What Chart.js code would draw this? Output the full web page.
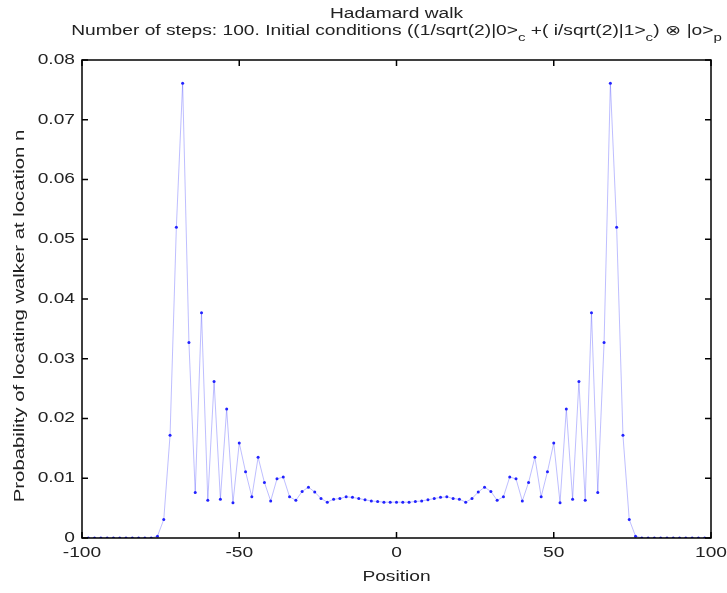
<!DOCTYPE html>
<html>
<head>
<meta charset="utf-8">
<script src="https://cdn.jsdelivr.net/npm/chart.js@4.4.1/dist/chart.umd.min.js"></script>
<style>
    html, body { margin: 0; padding: 0; background: #fff; }
    #wrap { width: 727px; height: 593px; }
</style>
</head>
<body>
<div id="wrap"><canvas id="chart" width="727" height="593"></canvas></div>
<script>
// positions -100..100, even sites only (odd sites are empty after 100 steps)
const positions = [
    -100, -98, -96, -94, -92, -90, -88, -86, -84, -82, -80, -78, -76, -74, -72, -70, -68, -66, -64, -62,
    -60, -58, -56, -54, -52, -50, -48, -46, -44, -42, -40, -38, -36, -34, -32, -30, -28, -26, -24, -22,
    -20, -18, -16, -14, -12, -10, -8, -6, -4, -2, 0, 2, 4, 6, 8, 10, 12, 14, 16, 18,
    20, 22, 24, 26, 28, 30, 32, 34, 36, 38, 40, 42, 44, 46, 48, 50, 52, 54, 56, 58,
    60, 62, 64, 66, 68, 70, 72, 74, 76, 78, 80, 82, 84, 86, 88, 90, 92, 94, 96, 98, 100
]
const probs = [
    0, 0, 0, 0, 0, 0, 0, 0, 0, 0, 0, 0, 0.0003, 0.0031, 0.0172, 0.0520, 0.0761, 0.0327, 0.0076, 0.0377,
    0.0063, 0.0262, 0.0065, 0.0216, 0.0059, 0.0159, 0.0111, 0.0069, 0.0135, 0.0093, 0.0062, 0.0099, 0.0102, 0.0069, 0.0063, 0.0078, 0.0085, 0.0077, 0.0066, 0.0060,
    0.0065, 0.0066, 0.0069, 0.0068, 0.0066, 0.0064, 0.0062, 0.0061, 0.0060, 0.0060, 0.0060, 0.0060, 0.0060, 0.0061, 0.0062, 0.0064, 0.0066, 0.0068, 0.0069, 0.0066,
    0.0065, 0.0060, 0.0066, 0.0077, 0.0085, 0.0078, 0.0063, 0.0069, 0.0102, 0.0099, 0.0062, 0.0093, 0.0135, 0.0069, 0.0111, 0.0159, 0.0059, 0.0216, 0.0065, 0.0262,
    0.0063, 0.0377, 0.0076, 0.0327, 0.0761, 0.0520, 0.0172, 0.0031, 0.0003, 0, 0, 0, 0, 0, 0, 0, 0, 0, 0, 0, 0
]
const xTicks = [-100, -50, 0, 50, 100]
const xTickLabels = ['-100', '-50', '0', '50', '100']
const yTicks = [0, 0.01, 0.02, 0.03, 0.04, 0.05, 0.06, 0.07, 0.08]
const yTickLabels = ['0', '0.01', '0.02', '0.03', '0.04', '0.05', '0.06', '0.07', '0.08']

const titleLine1 = 'Hadamard walk'
// [text, isSubscript]
const titleLine2 = [
    ['Number of steps: 100. Initial conditions ((1/sqrt(2)|0>', false], ['c', true],
    [' +( i/sqrt(2)|1>', false], ['c', true], [') \u2297 |o>', false], ['p', true]
]
const xLabel = 'Position'
const yLabel = 'Probability of locating walker at location n'

const FONT = '"Liberation Sans", Arial, sans-serif'
const MAIN_FONT = '14px ' + FONT
const SUB_FONT = '11px ' + FONT
const STRETCH = 1.37   // the text in the original is wide, scale it horizontally
const TICK_LEN = 6

// draw text stretched horizontally around its anchor
function wideText(ctx, text, x, y, align, sx) {
    ctx.save()
    ctx.translate(x, y)
    ctx.scale(sx, 1)
    ctx.textAlign = align
    ctx.fillText(text, 0, 0)
    ctx.restore()
}

const framePlugin = {
    id: 'frame',
    afterDraw(chart) {
        const ctx = chart.ctx
        const a = chart.chartArea
        const xs = chart.scales.x
        const ys = chart.scales.y
        ctx.save()
        ctx.strokeStyle = '#000'
        ctx.lineWidth = 1.5
        ctx.strokeRect(a.left, a.top, a.right - a.left, a.bottom - a.top)
        ctx.beginPath()
        xTicks.forEach(v => {
            const px = xs.getPixelForValue(v)
            ctx.moveTo(px, a.bottom); ctx.lineTo(px, a.bottom - TICK_LEN)
            ctx.moveTo(px, a.top); ctx.lineTo(px, a.top + TICK_LEN)
        })
        yTicks.forEach(v => {
            const py = ys.getPixelForValue(v)
            ctx.moveTo(a.left, py); ctx.lineTo(a.left + TICK_LEN, py)
            ctx.moveTo(a.right, py); ctx.lineTo(a.right - TICK_LEN, py)
        })
        ctx.stroke()

        ctx.fillStyle = '#222'
        ctx.textBaseline = 'middle'
        ctx.font = MAIN_FONT

        // tick labels
        xTicks.forEach((v, i) => wideText(ctx, xTickLabels[i], xs.getPixelForValue(v), a.bottom + 15, 'center', STRETCH))
        yTicks.forEach((v, i) => wideText(ctx, yTickLabels[i], a.left - 7, ys.getPixelForValue(v), 'right', STRETCH))

        const cx = (a.left + a.right) / 2
        wideText(ctx, titleLine1, cx, 14, 'center', STRETCH)

        // second title line with subscripts
        let total = 0
        titleLine2.forEach(([t, sub]) => {
            ctx.font = sub ? SUB_FONT : MAIN_FONT
            total += ctx.measureText(t).width * STRETCH
        })
        let x = cx - total / 2
        titleLine2.forEach(([t, sub]) => {
            ctx.font = sub ? SUB_FONT : MAIN_FONT
            wideText(ctx, t, x, sub ? 38 : 31, 'left', STRETCH)
            x += ctx.measureText(t).width * STRETCH
        })

        ctx.font = MAIN_FONT
        wideText(ctx, xLabel, cx, 577, 'center', STRETCH)

        ctx.translate(20, 316)
        ctx.rotate(-Math.PI / 2)
        wideText(ctx, yLabel, 0, 0, 'center', 1.45)
        ctx.restore()
    }
}

new Chart(document.getElementById('chart'), {
    type: 'line',
    data: {
        datasets: [{
            data: positions.map((p, i) => ({ x: p, y: probs[i] })),
            borderColor: 'rgba(40, 40, 255, 0.3)',
            borderWidth: 1,
            pointRadius: 1.5,
            pointBorderWidth: 0,
            pointBackgroundColor: '#2222ff',
            tension: 0
        }]
    },
    options: {
        responsive: false,
        animation: false,
        layout: { padding: { top: 60, right: 16, left: 0, bottom: 0 } },
        plugins: { legend: { display: false }, tooltip: { enabled: false } },
        scales: {
            x: {
                type: 'linear', min: -100, max: 100,
                afterFit: s => { s.height = 55 },
                grid: { display: false, drawTicks: false },
                border: { display: false },
                ticks: { display: false }
            },
            y: {
                min: 0, max: 0.08,
                afterFit: s => { s.width = 82 },
                grid: { display: false, drawTicks: false },
                border: { display: false },
                ticks: { display: false }
            }
        }
    },
    plugins: [framePlugin]
})
</script>
</body>
</html>
